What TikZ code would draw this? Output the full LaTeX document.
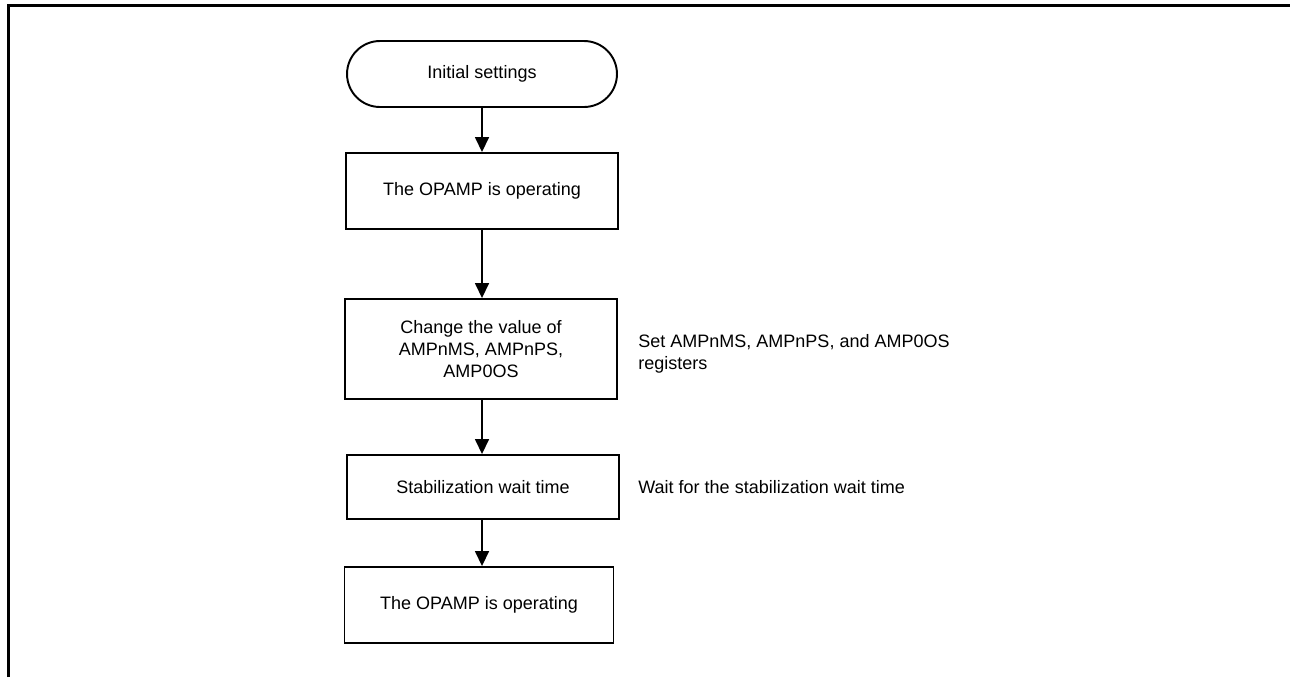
\documentclass[tikz,border=0pt]{standalone}
\usepackage{fontspec}
\setmainfont{Liberation Sans}
\usepackage{tikz}
\usetikzlibrary{arrows.meta}
\usetikzlibrary{positioning,shapes}

\begin{document}
\begin{tikzpicture}[x=0.02cm,y=-0.02cm,>={Triangle[width=0.28cm,length=0.3cm]},
	stepbox/.style={draw, line width=1.1pt, minimum width=5.44cm, align=center, inner sep=0pt,
		font=\fontsize{10.25pt}{12.6pt}\selectfont},
	termbox/.style={stepbox, rounded corners=0.66cm, minimum width=5.4cm, minimum height=1.32cm},
	note/.style={anchor=west, align=left, inner sep=0pt, font=\fontsize{10.25pt}{12.6pt}\selectfont},
	flow/.style={->, line width=0.9pt}]
		
		\useasboundingbox (0,0) rectangle (1290,677);
		
		% frame
		\draw [line width=1.7pt] (8.5,677) to (8.5,5.5) to (1290,5.5);
		
		% flow boxes
		\node[termbox] (start) at (482,74) {Initial settings};
		\node[stepbox, minimum height=1.52cm] (opamp) at (482,191) {The OPAMP is operating};
		\node[stepbox, minimum height=2cm] (change) at (481,349) {Change the value of\\AMPnMS, AMPnPS,\\AMP0OS};
		\node[stepbox, minimum height=1.28cm] (wait) at (483,487) {Stabilization wait time};
		\node[stepbox, minimum height=1.52cm, minimum width=5.38cm] (opampend) at (479,605) {The OPAMP is operating};
		
		% notes
		\node[note] (noteset) at (638,354) {Set AMPnMS, AMPnPS, and AMP0OS\\registers};
		\node[note] (notewait) at (638,487) {Wait for the stabilization wait time};
		
		% arrows
		\draw[flow] (start.south -| 482,0) to (opamp.north -| 482,0);
		\draw[flow] (opamp.south -| 482,0) to (change.north -| 482,0);
		\draw[flow] (change.south -| 482,0) to (wait.north -| 482,0);
		\draw[flow] (wait.south -| 482,0) to (opampend.north -| 482,0);
	\end{tikzpicture}
\end{document}
